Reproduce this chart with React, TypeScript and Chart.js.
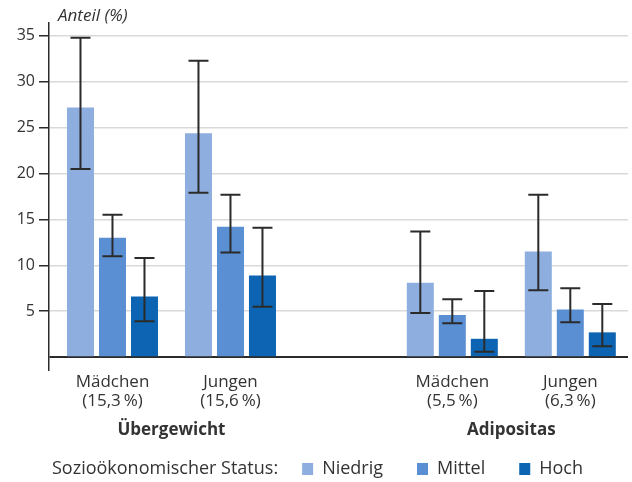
import React, { useEffect, useRef } from "react";
import { Chart, registerables } from "chart.js";

Chart.register(...registerables);

// ---- data ----
const groupLabels: string[][] = [
  ["Mädchen", "(15,3\u2009%)"],
  ["Jungen", "(15,6\u2009%)"],
  ["Mädchen", "(5,5\u2009%)"],
  ["Jungen", "(6,3\u2009%)"],
];
const groupTitles = ["Übergewicht", "Adipositas"];
const seriesNames = ["Niedrig", "Mittel", "Hoch"];

const niedrig = [27.2, 24.4, 8.1, 11.5];
const niedrigLo = [20.5, 17.9, 4.8, 7.3];
const niedrigHi = [34.8, 32.3, 13.7, 17.7];

const mittel = [13.0, 14.2, 4.6, 5.2];
const mittelLo = [11.0, 11.4, 3.7, 3.8];
const mittelHi = [15.5, 17.7, 6.3, 7.5];

const hoch = [6.6, 8.9, 2.0, 2.7];
const hochLo = [3.9, 5.5, 0.6, 1.2];
const hochHi = [10.8, 14.1, 7.2, 5.8];

const yTicks = [0, 5, 10, 15, 20, 25, 30, 35];
const axisTitle = "Anteil (%)";
const legendTitle = "Sozioökonomischer Status:";

// ---- layout / style config ----
const groupSlots = [1, 2, 3.88, 4.88];
const colors = ["#8eaedf", "#5a8fd4", "#0c64b2"];
const FONT = "'Open Sans', 'DejaVu Sans', sans-serif";
const TEXT = "#333333";

const seriesValues = [niedrig, mittel, hoch];
const seriesIntervals = [
  [niedrigLo, niedrigHi],
  [mittelLo, mittelHi],
  [hochLo, hochHi],
];

const errorBarsPlugin = {
  id: "errorBars",
  afterDatasetsDraw(chart: any) {
    const ctx = chart.ctx;
    const y = chart.scales.y;
    ctx.save();
    ctx.strokeStyle = "#2b2b2b";
    ctx.lineWidth = 2;
    chart.data.datasets.forEach((_ds: any, i: number) => {
      const meta = chart.getDatasetMeta(i);
      const [lo, hi] = seriesIntervals[i];
      meta.data.forEach((bar: any, j: number) => {
        const x = bar.x;
        const yTop = y.getPixelForValue(hi[j]);
        const yBot = y.getPixelForValue(lo[j]);
        const cap = 10;
        ctx.beginPath();
        ctx.moveTo(x, yTop);
        ctx.lineTo(x, yBot);
        ctx.moveTo(x - cap, yTop);
        ctx.lineTo(x + cap, yTop);
        ctx.moveTo(x - cap, yBot);
        ctx.lineTo(x + cap, yBot);
        ctx.stroke();
      });
    });
    ctx.restore();
  },
};

const overlayPlugin = {
  id: "overlay",
  afterDraw(chart: any) {
    const ctx = chart.ctx;
    const xs = chart.scales.x;
    ctx.save();
    ctx.fillStyle = TEXT;
    // axis title
    ctx.font = `italic 17px ${FONT}`;
    ctx.textAlign = "left";
    ctx.textBaseline = "middle";
    ctx.fillText(axisTitle, 58, 16);
    // group titles
    ctx.font = `bold 17px ${FONT}`;
    ctx.textAlign = "center";
    for (let g = 0; g < groupTitles.length; g++) {
      const a = xs.getPixelForValue(groupSlots[g * 2]);
      const b = xs.getPixelForValue(groupSlots[g * 2 + 1]);
      ctx.fillText(groupTitles[g], (a + b) / 2, 430);
    }
    // legend
    ctx.font = `18px ${FONT}`;
    ctx.textAlign = "left";
    const ly = 469;
    let x = 52;
    ctx.fillText(legendTitle, x, ly);
    x += ctx.measureText(legendTitle).width + 24;
    chart.data.datasets.forEach((ds: any) => {
      ctx.fillStyle = ds.backgroundColor;
      ctx.fillRect(x, ly - 6, 11, 12);
      x += 20;
      ctx.fillStyle = TEXT;
      ctx.fillText(ds.label, x, ly);
      x += ctx.measureText(ds.label).width + 34;
    });
    ctx.restore();
  },
};

export default function App() {
  const ref = useRef<HTMLCanvasElement | null>(null);
  useEffect(() => {
    if (!ref.current) return;
    const chart = new Chart(ref.current, {
      type: "bar",
      data: {
        datasets: seriesNames.map((name, i) => ({
          label: name,
          data: seriesValues[i].map((v, j) => ({ x: groupSlots[j], y: v })),
          backgroundColor: colors[i],
          borderWidth: 0,
          categoryPercentage: 0.8136,
          barPercentage: 0.844,
        })),
      },
      options: {
        animation: false,
        responsive: false,
        devicePixelRatio: 1,
        layout: { padding: { top: 23, right: 4, left: 0, bottom: 0 } },
        plugins: {
          legend: { display: false },
          tooltip: { enabled: false },
          title: { display: false },
        },
        scales: {
          x: {
            type: "linear",
            min: 0.462,
            max: 5.369,
            offset: false,
            grid: { display: false, drawTicks: false },
            border: { display: false },
            afterBuildTicks: (s: any) => {
              s.ticks = groupSlots.map((v) => ({ value: v }));
            },
            afterFit: (s: any) => {
              s.height = 112;
            },
            ticks: {
              autoSkip: false,
              maxRotation: 0,
              padding: 2,
              color: TEXT,
              font: { family: FONT, size: 17, lineHeight: 1.15 },
              callback: (_v: any, i: number) => groupLabels[i],
            },
          },
          y: {
            type: "linear",
            min: -1.4,
            max: 36.4,
            afterBuildTicks: (s: any) => {
              s.ticks = yTicks.map((v) => ({ value: v }));
            },
            afterFit: (s: any) => {
              s.width = 49;
            },
            grid: {
              color: (c: any) => (c.tick && c.tick.value === 0 ? "#2b2b2b" : "#d9d9d9"),
              lineWidth: (c: any) => (c.tick && c.tick.value === 0 ? 2 : 1.5),
              tickColor: (c: any) => (c.tick && c.tick.value === 0 ? "rgba(0,0,0,0)" : "#2b2b2b"),
              tickLength: 10,
              tickWidth: 1.5,
              drawTicks: true,
            },
            border: { display: true, color: "#2b2b2b", width: 1.5 },
            ticks: {
              padding: 4,
              color: TEXT,
              font: { family: FONT, size: 16 },
              callback: (v: any) => (v === 0 ? "" : String(v)),
            },
          },
        },
      },
      plugins: [errorBarsPlugin, overlayPlugin],
    } as any);
    return () => chart.destroy();
  }, []);
  return (
    <div style={{ position: "fixed", left: 0, top: 0, width: 632, height: 482, background: "#fff" }}>
      <canvas ref={ref} width={632} height={482} style={{ display: "block" }} />
    </div>
  );
}
